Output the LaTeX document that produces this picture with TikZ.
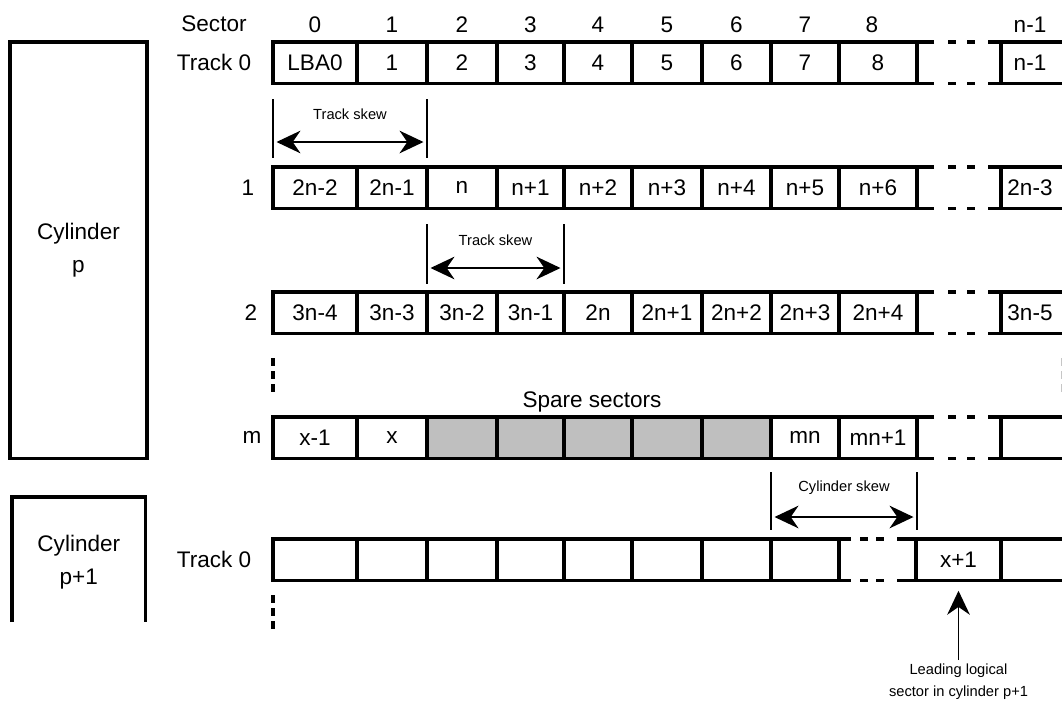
\documentclass[tikz,border=0pt]{standalone}
\usepackage{fontspec}
\setmainfont{Liberation Sans}
\usetikzlibrary{arrows.meta, positioning}

\definecolor{sparegray}{RGB}{191,191,191}

\tikzset{
  rowline/.style={line width=2.4pt},
  boxline/.style={line width=2.6pt},
  skewline/.style={line width=1.2pt},
  skewarrow/.style={line width=1.1pt, {Stealth[length=18pt, width=17pt]}-{Stealth[length=18pt, width=17pt]}},
  leadarrow/.style={line width=1.1pt, -{Stealth[length=18pt, width=17pt]}},
  bigtext/.style={font=\fontsize{16.9}{24.75}\selectfont, inner sep=0pt},
  smalltext/.style={font=\fontsize{11}{16.5}\selectfont, inner sep=0pt},
  dotline/.style={line width=2.4pt, dash pattern=on 6pt off 3.75pt},
}

\begin{document}
\begin{tikzpicture}[x=0.75pt, y=-0.75pt]
\useasboundingbox (0,0) rectangle (1062,700);

% cylinders
\draw[boxline] (10,42) rectangle (147,458.5);
\draw[boxline] (12,622) -- (12,497) -- (145.5,497) -- (145.5,622);
\node[bigtext, align=center] (cylp) at (78.5,250) {Cylinder\\p};
\node[bigtext, align=center] (cylq) at (78.8,562) {Cylinder\\p+1};

% spare sectors
\fill[sparegray] (427,417) rectangle (771,458.5);
\node[bigtext] (spare) at (592,402) {Spare sectors};

% tracks of cylinder p
\foreach \ty in {42,167,292,417} {
  \draw[rowline] (934,\ty) -- (273,\ty) -- (273,\ty+41.5) -- (934,\ty+41.5);
  \foreach \bx in {357,427,497,564,632,702,771,839,917}
    \draw[rowline] (\bx,\ty) -- (\bx,\ty+41.5);
  \draw[rowline] (948,\ty) -- (956,\ty) (967,\ty) -- (975,\ty)
    (948,\ty+41.5) -- (956,\ty+41.5) (967,\ty+41.5) -- (975,\ty+41.5);
  \draw[rowline] (1062,\ty) -- (988,\ty) (988,\ty+41.5) -- (1062,\ty+41.5)
    (1001,\ty) -- (1001,\ty+41.5);
}

% track 0 of cylinder p+1
\draw[rowline] (851,539) -- (273,539) -- (273,580.5) -- (851,580.5);
\foreach \bx in {357,427,497,564,632,702,771,839}
  \draw[rowline] (\bx,539) -- (\bx,580.5);
\draw[rowline] (860,539) -- (868,539) (876,539) -- (884,539)
  (860,580.5) -- (868,580.5) (876,580.5) -- (884,580.5);
\draw[rowline] (1062,539) -- (897,539) (897,580.5) -- (1062,580.5)
  (916,539) -- (916,580.5) (1001,539) -- (1001,580.5);

% more tracks
\draw[dotline] (273,358) -- (273,393);
\draw[dotline] (273,595) -- (273,630);
\draw[gray!45, line width=1pt, dash pattern=on 6pt off 3.75pt] (1061.5,358) -- (1061.5,393);

% sector numbers
\node[bigtext] (sector) at (214,24) {Sector};
\foreach \cx/\txt [count=\i] in {315/0, 392/1, 462/2, 530.5/3, 598/4, 667/5, 736.5/6, 805/7, 872/8, 1030/n-1}
  \node[bigtext] (sec\i) at (\cx,25) {\txt};

% track labels
\node[bigtext] (trka) at (214,62.75) {Track 0};
\node[bigtext] (trkb) at (248,187.75) {1};
\node[bigtext] (trkc) at (251,312.75) {2};
\node[bigtext] (trkm) at (252,437.75) {m};
\node[bigtext] (trkd) at (214,559.75) {Track 0};

% logical sectors
\foreach \cx/\txt [count=\i] in {315/LBA0, 392/1, 462/2, 530.5/3, 598/4, 667/5, 736.5/6, 805/7, 878/8, 1030/n-1}
  \node[bigtext] (ra\i) at (\cx,62.75) {\txt};
\foreach \cx/\txt [count=\i] in {315/2n-2, 392/2n-1, 462/n, 530.5/n+1, 598/n+2, 667/n+3, 736.5/n+4, 805/n+5, 878/n+6, 1030/2n-3}
  \node[bigtext] (rb\i) at (\cx,187.75) {\txt};
\foreach \cx/\txt [count=\i] in {315/3n-4, 392/3n-3, 462/3n-2, 530.5/3n-1, 598/2n, 667/2n+1, 736.5/2n+2, 805/2n+3, 878/2n+4, 1030/3n-5}
  \node[bigtext] (rc\i) at (\cx,312.75) {\txt};
\foreach \cx/\txt [count=\i] in {315/x-1, 392/x, 805/mn, 878/mn+1}
  \node[bigtext] (rm\i) at (\cx,437.75) {\txt};

% skews
\coordinate (skaL) at (276.5,142);
\coordinate (skaR) at (423.5,142);
\draw[skewline] (273,99) -- (273,158) (427,99) -- (427,158);
\draw[skewarrow] (skaL) -- (skaR);
\node[smalltext] (ska) at (350,114) {Track skew};

\coordinate (skbL) at (430.5,268);
\coordinate (skbR) at (560.5,268);
\draw[skewline] (427,224) -- (427,284) (564,224) -- (564,284);
\draw[skewarrow] (skbL) -- (skbR);
\node[smalltext] (skb) at (495.5,240) {Track skew};

\coordinate (skcL) at (774.5,517);
\coordinate (skcR) at (913.5,517);
\draw[skewline] (771,472) -- (771,530) (917,472) -- (917,530);
\draw[skewarrow] (skcL) -- (skcR);
\node[smalltext] (skc) at (844,488) {Cylinder skew};

% leading sector
\node[bigtext, minimum height=31.1pt] (xone) at (958.5,559.75) {x+1};
\node[smalltext, align=center, anchor=north] (lead) at (958.5,664) {Leading logical\\sector in cylinder p+1};
\draw[leadarrow] ([yshift=3pt]lead.north) -- ([yshift=-7.5pt]xone.south);
\end{tikzpicture}
\end{document}
